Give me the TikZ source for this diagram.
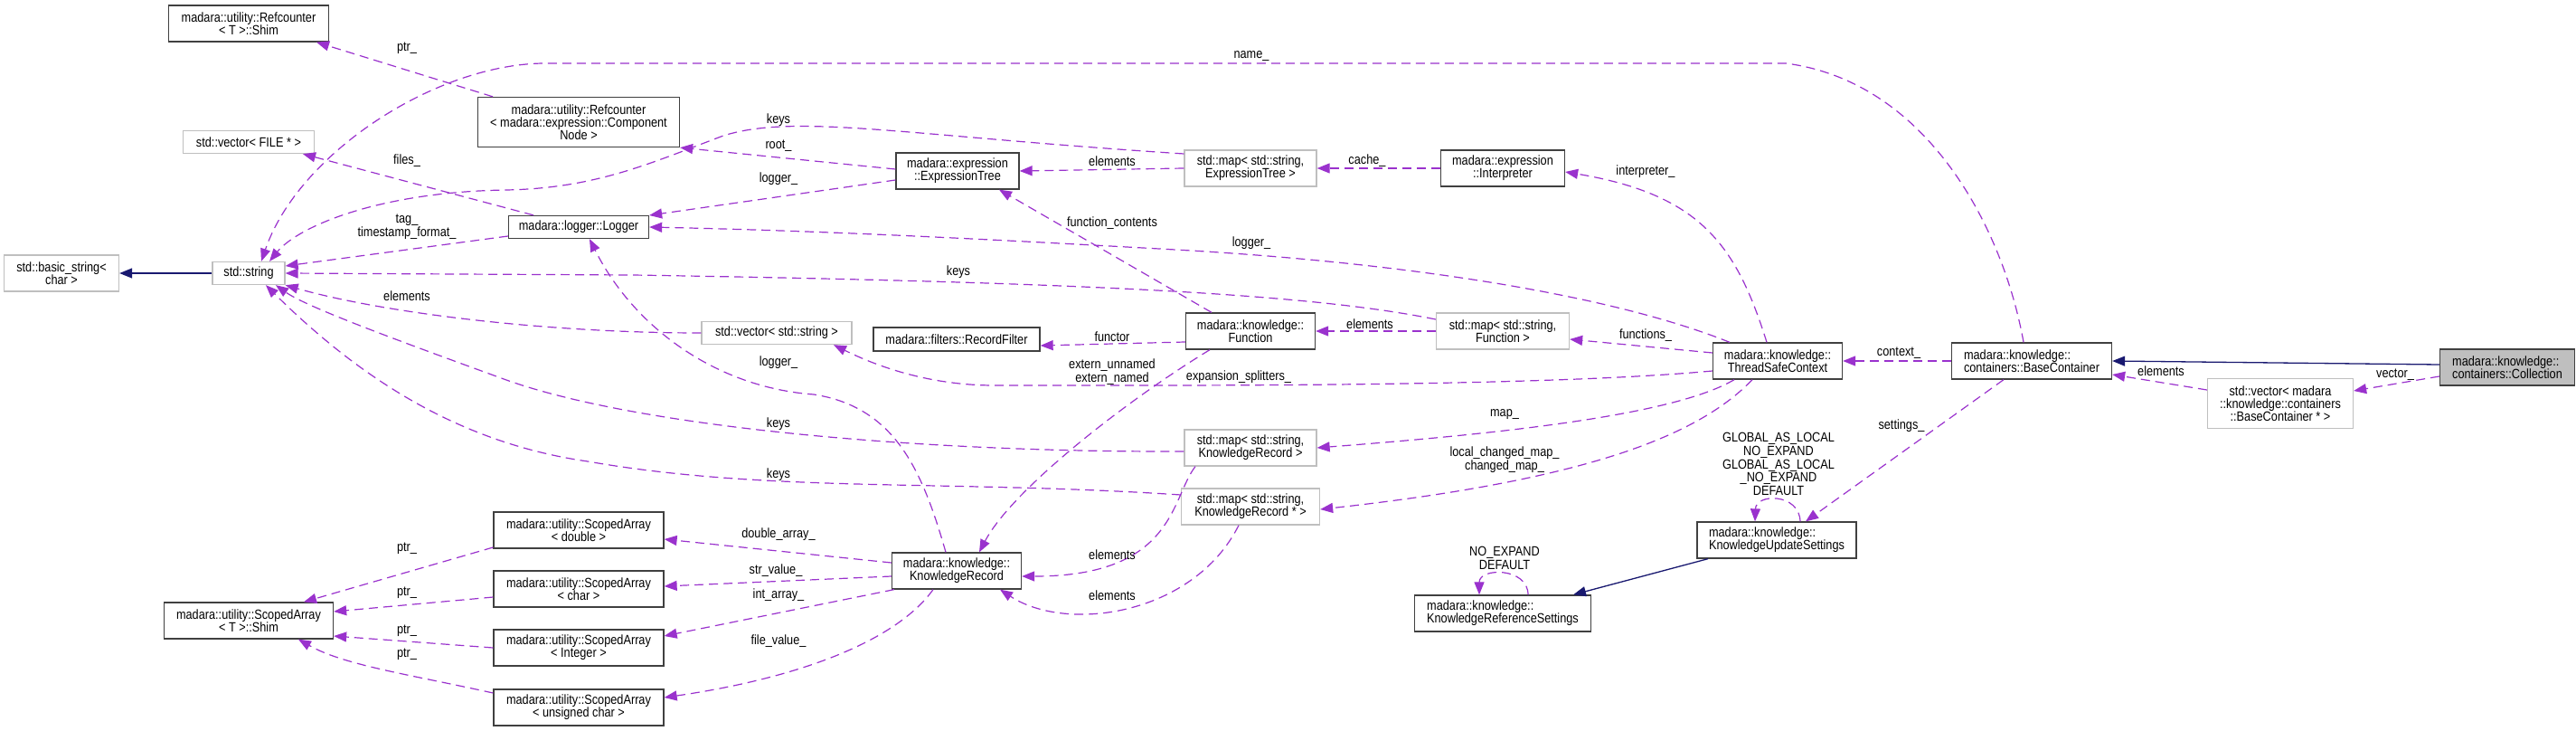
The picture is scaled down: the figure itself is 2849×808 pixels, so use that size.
\documentclass[tikz,border=0pt]{standalone}
\usepackage{fontspec}
\setmainfont[FakeStretch=0.86]{Liberation Sans}
\usetikzlibrary{arrows.meta}
\definecolor{cdep}{HTML}{9A32CD}
\definecolor{cinh}{HTML}{191970}
\definecolor{cgb}{HTML}{BFBFBF}
\definecolor{cbd}{HTML}{404040}
\begin{document}
\begin{tikzpicture}[x=1pt,y=-1pt,
  every node/.style={font=\fontsize{14.8}{14}\selectfont, inner sep=0pt},
  cls/.style={draw=cbd, line width=1.3pt, fill=white, align=center, minimum height=40pt},
  ext/.style={cls, draw=cgb},
  lbl/.style={align=center, font=\fontsize{14.8}{14.6}\selectfont},
  depl/.style={draw=cdep, line width=1.2pt, dash pattern=on 10pt off 6pt, -{Triangle[length=14pt,width=11pt]}},
  inhl/.style={draw=cinh, line width=1.3pt, -{Triangle[length=14pt,width=11pt]}},
]
\useasboundingbox (0,0) rectangle (2849,808);

% ---------- nodes ----------
\node[cls, minimum width=177pt] (RefShim) at (275,26) {madara::utility::Refcounter\\< T >::Shim};
\node[cls, minimum width=223pt, minimum height=55pt] (RefCN) at (640,135) {madara::utility::Refcounter\\< madara::expression::Component\\Node >};
\node[ext, minimum width=145pt, minimum height=25pt] (vecFILE) at (275,157) {std::vector< FILE * >};
\node[cls, minimum width=155pt, minimum height=25pt] (Logger) at (640,251) {madara::logger::Logger};
\node[ext, minimum width=127pt] (bstr) at (68,302) {std::basic\_string<\\char >};
\node[ext, minimum width=80pt, minimum height=25pt] (str) at (275,302) {std::string};
\node[cls, minimum width=187pt] (SShim) at (275,686) {madara::utility::ScopedArray\\< T >::Shim};
\node[cls, minimum width=188pt] (SAd) at (640,586) {madara::utility::ScopedArray\\< double >};
\node[cls, minimum width=188pt] (SAc) at (640,651) {madara::utility::ScopedArray\\< char >};
\node[cls, minimum width=188pt] (SAi) at (640,716) {madara::utility::ScopedArray\\< Integer >};
\node[cls, minimum width=188pt] (SAu) at (640,782) {madara::utility::ScopedArray\\< unsigned char >};
\node[cls, minimum width=136pt] (ET) at (1059,189) {madara::expression\\::ExpressionTree};
\node[ext, minimum width=146pt] (mapET) at (1383,186) {std::map< std::string,\\ExpressionTree >};
\node[cls, minimum width=143pt] (Func) at (1383,366) {madara::knowledge::\\Function};
\node[cls, minimum width=184pt, minimum height=26pt] (RF) at (1058,375) {madara::filters::RecordFilter};
\node[ext, minimum width=166pt, minimum height=25pt] (vecS) at (859,368) {std::vector< std::string >};
\node[ext, minimum width=146pt] (mapKR) at (1383,495) {std::map< std::string,\\KnowledgeRecord >};
\node[ext, minimum width=153pt] (mapKRp) at (1383,560) {std::map< std::string,\\KnowledgeRecord * >};
\node[cls, minimum width=143pt] (KR) at (1058,631) {madara::knowledge::\\KnowledgeRecord};
\node[cls, minimum width=137pt] (Interp) at (1662,186) {madara::expression\\::Interpreter};
\node[ext, minimum width=147pt] (mapF) at (1662,366) {std::map< std::string,\\Function >};
\node[cls, minimum width=143pt] (TSC) at (1966,399) {madara::knowledge::\\ThreadSafeContext};
\node[cls, align=left, minimum width=176pt] (KUS) at (1965,597) {madara::knowledge::\\KnowledgeUpdateSettings};
\node[cls, align=left, minimum width=195pt] (KRS) at (1662,678) {madara::knowledge::\\KnowledgeReferenceSettings};
\node[cls, align=left, minimum width=177pt] (BC) at (2247,399) {madara::knowledge::\\containers::BaseContainer};
\node[cls, align=left, fill=cgb, minimum width=149pt] (Coll) at (2773,406) {madara::knowledge::\\containers::Collection};
\node[ext, minimum width=161pt, minimum height=55pt] (vecBC) at (2522,446) {std::vector< madara\\::knowledge::containers\\::BaseContainer * >};

% ---------- inheritance ----------
\draw[inhl] (str.west) -- (bstr.east);
\draw[inhl] ([yshift=3pt]Coll.west) -- (BC.east);
\draw[inhl] ([xshift=-76pt]KUS.south) -- ([xshift=78pt]KRS.north);

% ---------- usage ----------
\draw[depl] ([xshift=-95pt]RefCN.north) -- ([xshift=75pt]RefShim.south);
\draw[depl] ([xshift=-9pt]BC.north) .. controls (2215,250) and (2130,90) .. (1975,70) -- (600,70) .. controls (480,72) and (330,170) .. ([xshift=14pt]str.north);
\draw[depl] ([xshift=-50pt]Logger.north) -- ([xshift=60pt]vecFILE.south);
\draw[depl] ([yshift=-10pt]Logger.west) -- ([yshift=8pt]str.east);
\draw[depl] ([yshift=16pt]mapET.west) .. controls (1000,150) and (880,125) .. (800,150) .. controls (720,180) and (660,208) .. (560,210) .. controls (420,212) and (330,250) .. ([xshift=23pt]str.north);
\draw[depl] ([yshift=2pt]ET.west) -- (RefCN.south east);
\draw[depl] ([yshift=-10pt]ET.west) -- ([yshift=13pt]Logger.east);
\draw[depl] (mapET.west) -- (ET.east);
\draw[depl] (Interp.west) -- (mapET.east);
\draw[depl] ([xshift=-12pt]TSC.north) .. controls (1920,270) and (1880,215) .. ([yshift=-4pt]Interp.east);
\draw[depl] ([xshift=-53pt]TSC.north) .. controls (1780,325) and (1550,290) .. (1300,276) .. controls (1050,262) and (900,255) .. (Logger.east);
\draw[depl] ([yshift=13pt]mapF.west) .. controls (1450,325) and (1200,312) .. (700,304) -- (str.east);
\draw[depl] ([xshift=-43pt]Func.north) -- ([xshift=46pt]ET.south);
\draw[depl] ([yshift=-12pt]Func.west) -- ([yshift=-7pt]RF.east);
\draw[depl] (mapF.west) -- (Func.east);
\draw[depl] ([yshift=9pt]TSC.west) -- ([yshift=-9pt]mapF.east);
\draw[depl] (vecS.west) .. controls (600,368) and (420,345) .. (str.south east);
\draw[depl] ([yshift=-11pt]TSC.west) .. controls (1700,428) and (1300,426) .. (1100,426) .. controls (1020,426) and (960,400) .. ([xshift=63pt]vecS.south);
\draw[depl] ([xshift=-45pt]Func.south) .. controls (1250,440) and (1120,540) .. ([xshift=25pt]KR.north);
\draw[depl] ([xshift=-12pt]KR.north) .. controls (1020,520) and (990,450) .. (900,436) .. controls (790,428) and (700,360) .. ([xshift=12pt]Logger.south);
\draw[depl] ([yshift=-4pt]mapKR.west) .. controls (1000,500) and (700,470) .. (560,420) .. controls (450,380) and (340,340) .. ([xshift=30pt]str.south);
\draw[depl] ([yshift=13pt]mapKRp.west) .. controls (1050,530) and (850,545) .. (650,510) .. controls (510,490) and (400,420) .. ([xshift=19pt]str.south);
\draw[depl] ([xshift=-61pt]mapKR.south) .. controls (1295,550) and (1300,637) .. ([yshift=-6pt]KR.east);
\draw[depl] ([xshift=-13pt]mapKRp.south) .. controls (1320,680) and (1180,700) .. ([xshift=48pt]KR.south);
\draw[depl] ([xshift=-48pt]TSC.south) .. controls (1850,460) and (1650,480) .. (mapKR.east);
\draw[depl] ([xshift=-28pt]TSC.south) .. controls (1880,480) and (1760,530) .. ([yshift=-3pt]mapKRp.east);
\draw[depl] ([yshift=9pt]KR.west) -- ([yshift=-10pt]SAd.east);
\draw[depl] ([yshift=-6pt]KR.west) -- ([yshift=3pt]SAc.east);
\draw[depl] ([xshift=3pt]KR.south west) -- ([yshift=13pt]SAi.east);
\draw[depl] ([xshift=-26pt]KR.south) .. controls (990,710) and (880,750) .. ([yshift=11pt]SAu.east);
\draw[depl] ([yshift=-19pt]SAd.west) -- ([xshift=61pt]SShim.north);
\draw[depl] ([yshift=-9pt]SAc.west) -- ([yshift=10pt]SShim.east);
\draw[depl] (SAi.west) -- ([yshift=-17pt]SShim.east);
\draw[depl] ([yshift=16pt]SAu.west) .. controls (450,745) and (380,735) .. ([xshift=55pt]SShim.south);
\draw[depl] (BC.west) -- (TSC.east);
\draw[depl] ([xshift=-31pt]BC.south) -- ([xshift=32pt]KUS.north);
\draw[depl] ([xshift=26pt]KUS.north) .. controls (1990,545) and (1942,545) .. ([xshift=-24pt]KUS.north);
\draw[depl] ([xshift=28pt]KRS.north) .. controls (1690,627) and (1636,627) .. ([xshift=-26pt]KRS.north);
\draw[depl] ([yshift=15pt]vecBC.west) -- ([yshift=-15pt]BC.east);
\draw[depl] ([yshift=-10pt]Coll.west) -- ([yshift=14pt]vecBC.east);

% ---------- labels ----------
\node[lbl] (l01) at (450,53) {ptr\_};
\node[lbl] (l02) at (1384,62) {name\_};
\node[lbl] (l03) at (450,178) {files\_};
\node[lbl] (l04) at (450,251) {tag\_\\timestamp\_format\_};
\node[lbl] (l05) at (450,327) {elements};
\node[lbl] (l06) at (861,133) {keys};
\node[lbl] (l07) at (861,161) {root\_};
\node[lbl] (l08) at (861,198) {logger\_};
\node[lbl] (l09) at (1230,178) {elements};
\node[lbl] (l10) at (1512,178) {cache\_};
\node[lbl] (l11) at (1820,190) {interpreter\_};
\node[lbl] (l12) at (1230,247) {function\_contents};
\node[lbl] (l13) at (1384,269) {logger\_};
\node[lbl] (l14) at (1060,301) {keys};
\node[lbl] (l15) at (1230,372) {functor};
\node[lbl] (l16) at (1515,358) {elements};
\node[lbl] (l17) at (1820,371) {functions\_};
\node[lbl] (l18) at (2100,390) {context\_};
\node[lbl] (l19) at (861,401) {logger\_};
\node[lbl] (l20) at (1230,411) {extern\_unnamed\\extern\_named};
\node[lbl] (l21) at (1370,417) {expansion\_splitters\_};
\node[lbl] (l22) at (861,469) {keys};
\node[lbl] (l23) at (861,525) {keys};
\node[lbl] (l24) at (1664,458) {map\_};
\node[lbl] (l25) at (1664,508) {local\_changed\_map\_\\changed\_map\_};
\node[lbl] (l26) at (2103,471) {settings\_};
\node[lbl] (l27) at (1967,513) {GLOBAL\_AS\_LOCAL\\NO\_EXPAND\\GLOBAL\_AS\_LOCAL\\\_NO\_EXPAND\\DEFAULT};
\node[lbl] (l28) at (1664,617) {NO\_EXPAND\\DEFAULT};
\node[lbl] (l29) at (861,591) {double\_array\_};
\node[lbl] (l30) at (858,631) {str\_value\_};
\node[lbl] (l31) at (861,658) {int\_array\_};
\node[lbl] (l32) at (861,709) {file\_value\_};
\node[lbl] (l33) at (1230,613) {elements};
\node[lbl] (l34) at (1230,658) {elements};
\node[lbl] (l35) at (2390,410) {elements};
\node[lbl] (l36) at (2649,414) {vector\_};
\node[lbl] (l37) at (450,606) {ptr\_};
\node[lbl] (l38) at (450,655) {ptr\_};
\node[lbl] (l39) at (450,697) {ptr\_};
\node[lbl] (l40) at (450,723) {ptr\_};
\end{tikzpicture}
\end{document}
